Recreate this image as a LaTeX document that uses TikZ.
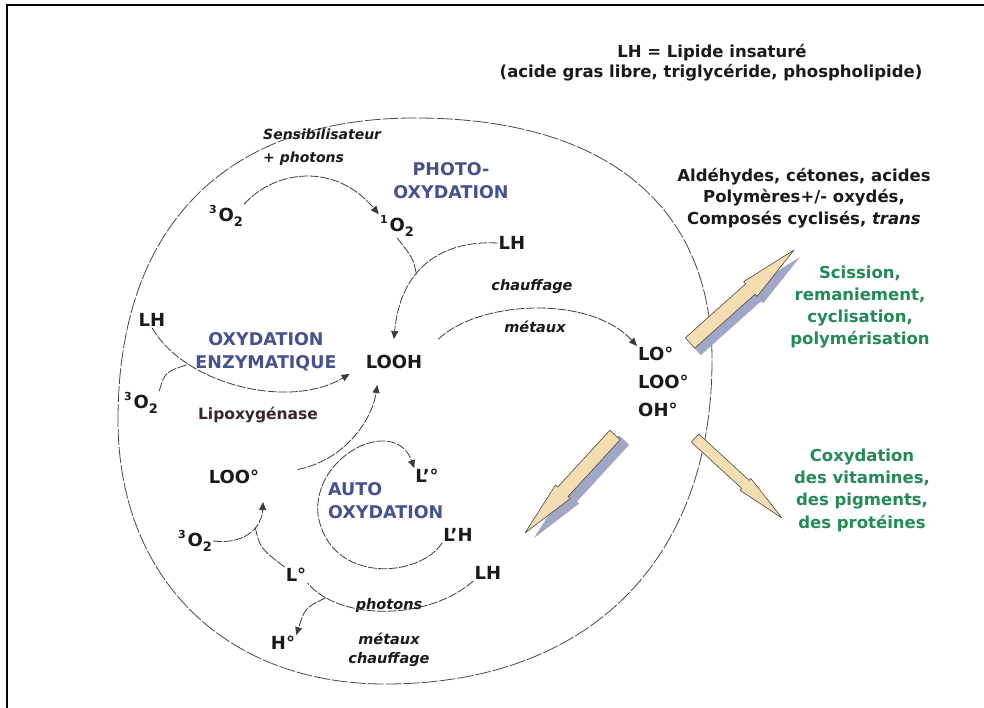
\documentclass[tikz,border=0pt]{standalone}
\usepackage{fontspec}
\setmainfont{DejaVu Sans}
\usetikzlibrary{arrows.meta,calc}
\definecolor{oxblue}{HTML}{46528E}
\definecolor{oxgreen}{HTML}{238A58}
\definecolor{beige}{HTML}{F4DDB0}
\definecolor{shade}{HTML}{A2A6C6}
\definecolor{ink}{HTML}{1A1A1A}
\definecolor{enzink}{HTML}{3A2626}

% oxygen with spin multiplicity
\newcommand\oxyg[1]{{\fontsize{11}{11}\selectfont\raisebox{1.3ex}{#1}}\hspace{2pt}O\raisebox{-0.55ex}{\fontsize{13}{13}\selectfont 2}}

% pencil-like block arrow: tail, tip, half shaft width, half head width, style
\newcommand\pencil[5]{%
  \coordinate (ba0) at (#1);
  \coordinate (ba1) at (#2);
  \coordinate (bam) at ($(ba0)!0.58!(ba1)$);
  \draw[#5] ($(ba0)!#3!90:(ba1)$) -- ($(bam)!#3!-90:(ba0)$) -- ($(bam)!#4!-90:(ba0)$)
    -- (ba1) -- ($(bam)!#4!90:(ba0)$) -- ($(bam)!#3!90:(ba0)$) -- ($(ba0)!#3!-90:(ba1)$) -- cycle;
}

\begin{document}
\begin{tikzpicture}[x=1pt,y=-1pt,
  lab/.style={font=\bfseries\fontsize{18}{20}\selectfont, text=ink, inner sep=1pt},
  proc/.style={font=\bfseries\fontsize{17.5}{23}\selectfont, text=oxblue, align=center, inner sep=1pt},
  cond/.style={font=\bfseries\itshape\fontsize{14.5}{19}\selectfont, text=ink, inner sep=1pt, align=center},
  note/.style={font=\bfseries\fontsize{16.5}{21.5}\selectfont, text=ink, align=center, inner sep=1pt},
  effect/.style={font=\bfseries\fontsize{16.5}{22.3}\selectfont, text=oxgreen, align=center, inner sep=1pt},
  conn/.style={draw=ink!85, line width=0.8pt, dash pattern=on 9pt off 1.5pt},
  arr/.style={-{Triangle[length=8pt,width=7pt]}},
  pen/.style={fill=beige, draw=ink!80, line width=0.6pt, line join=round},
  penshade/.style={fill=shade, draw=none},
]
\useasboundingbox (0,0) rectangle (984,708);
\fill[white] (0,0) rectangle (984,708);
\draw[line width=2.5pt] (7,708) -- (7,5) -- (984,5);

% cell boundary
\draw[ink!80, line width=0.8pt, dash pattern=on 16pt off 2pt]
  (118,420) .. controls (118,227) and (225,118) .. (415,118)
  .. controls (605,118) and (712,205) .. (712,360)
  .. controls (712,561) and (588,684) .. (385,684)
  .. controls (225,684) and (118,578) .. cycle;

% headings
\node[note] (def1) at (712,53) {LH = Lipide insaturé};
\node[note] (def2) at (711,73) {(acide gras libre, triglycéride, phospholipide)};
\node[note] (prod) at (804,198) {Aldéhydes, cétones, acides\\Polymères+/- oxydés,\\Composés cyclisés, \textit{trans}};
\node[effect] (scis) at (860,307) {Scission,\\remaniement,\\cyclisation,\\polymérisation};
\node[effect] (coox) at (862,490) {Coxydation\\des vitamines,\\des pigments,\\des protéines};

% photo-oxidation
\node[cond, align=left, anchor=west, font=\bfseries\itshape\fontsize{14}{23}\selectfont] (sens) at (262,147) {Sensibilisateur\\+ photons};
\node[proc] (photo) at (451,181) {PHOTO-\\OXYDATION};
\node[lab] (o2a) at (226,216) {\oxyg{3}};
\node[lab] (o2s) at (397,226) {\oxyg{1}};
\node[lab] (lha) at (512,243) {LH};
\node[lab, inner xsep=16pt, inner ysep=16pt] (looh) at (394,362) {LOOH};
\node[cond] (chf) at (532,287) {chauffage};
\node[cond] (met) at (535,327) {métaux};
\node[lab, anchor=west, align=left, font=\bfseries\fontsize{18}{28}\selectfont] (rad) at (637,382) {LO°\\LOO°\\OH°};

% enzymatic oxidation
\node[lab] (lhb) at (152,320) {LH};
\node[proc] (enz) at (266,352) {OXYDATION\\ENZYMATIQUE};
\node[lab] (o2b) at (141,403) {\oxyg{3}};
\node[lab, text=enzink, font=\bfseries\fontsize{15.5}{18}\selectfont] (lipox) at (258,415) {Lipoxygénase};

% auto-oxidation
\node[lab] (loo) at (234,477) {LOO°};
\node[lab] (lpr) at (427,476) {L'°};
\node[proc, anchor=west, align=left] (auto) at (327,501) {AUTO\\OXYDATION};
\node[lab] (lph) at (458,535) {L'H};
\node[lab] (o2c) at (195,541) {\oxyg{3}};
\node[lab] (ldot) at (296,575) {L°};
\node[lab] (lhc) at (488,573) {LH};
\node[cond] (phot) at (389,605) {photons};
\node[cond] (mc) at (389,650) {métaux\\chauffage};
\node[lab] (hdot) at (283,643) {H°};

% connectors
\draw[conn, arr] (o2a.north east) .. controls (275,170) and (335,162) .. (o2s.north west);
\draw[conn, arr] (lha.west) .. controls (440,240) and (400,270) .. coordinate[pos=0.6] (j1) (looh.north);
\draw[conn] (o2s.south) .. controls (413,258) .. (j1);
\draw[conn, arr] (looh.north east) .. controls (480,300) and (590,295) .. (rad.north west);
\draw[conn, arr] (lhb.south) .. controls (185,385) and (290,410) .. coordinate[pos=0.25] (j2) (looh.195);
\draw[conn] (o2b.north east) .. controls (165,372) .. (j2);
\draw[conn, arr, shorten <=38pt] (loo.east) .. controls (345,460) and (372,420) .. (looh.234);
\draw[conn, arr] (lph.south west) .. controls (420,578) and (330,585) .. (318,515)
  .. controls (312,455) and (395,415) .. (lpr.north west);
\coordinate (tloo) at (263,502);
\draw[conn, arr] (o2c.east) .. controls (248,545) and (262,525) .. coordinate[pos=0.6] (j3) (tloo);
\draw[conn] (ldot.north west) .. controls (260,548) .. (j3);
\draw[conn] (lhc.south west) .. controls (430,620) and (340,622) .. coordinate[pos=0.85] (j4) (ldot.south east);
\draw[conn, arr] (j4) .. controls (305,608) .. (hdot.north east);

% product arrows
\pencil{$(690,343)+(6,7)$}{$(794,250)+(6,7)$}{7pt}{10pt}{penshade}
\pencil{690,343}{794,250}{7pt}{10pt}{pen}
\pencil{$(615,435)+(9,5)$}{$(525,533)+(9,5)$}{7pt}{10pt}{penshade}
\pencil{615,435}{525,533}{7pt}{10pt}{pen}
\pencil{695,438}{782,518}{5.5pt}{8pt}{pen}
\end{tikzpicture}
\end{document}
